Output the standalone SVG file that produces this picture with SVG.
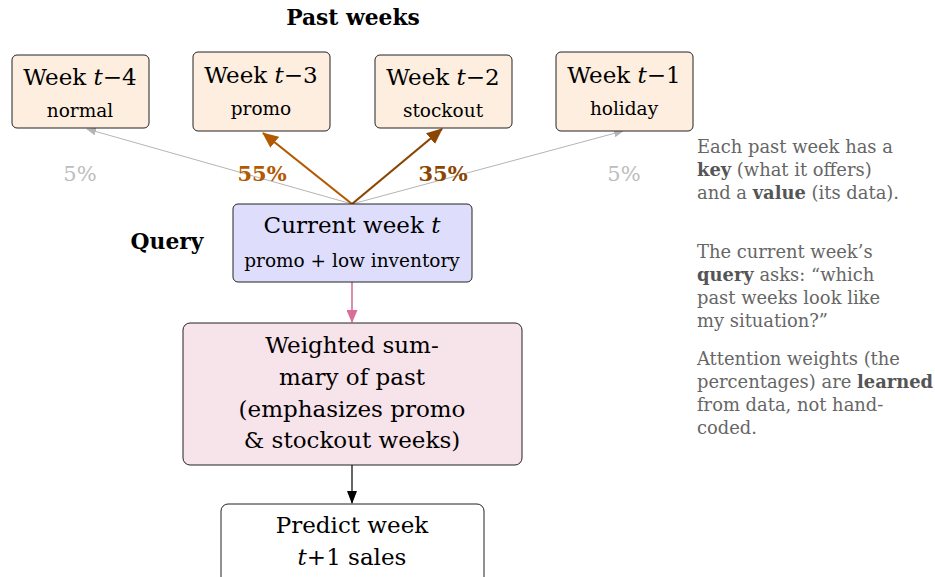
<svg xmlns="http://www.w3.org/2000/svg" width="935" height="577" viewBox="0 0 935 577">
  <style>
    text { font-family: "DejaVu Serif", "Liberation Serif", serif; }
    .big { font-size: 23px; fill: #000; text-anchor: middle; }
    .small { font-size: 18.5px; fill: #000; text-anchor: middle; }
    .it { font-style: italic; }
    .head { font-size: 21.8px; font-weight: bold; fill: #000; text-anchor: middle; }
    .note { font-size: 17.9px; fill: #666; }
    .note .b { font-weight: bold; fill: #555; }
    .past { fill: #fdeedf; stroke: #222; stroke-width: 1; }
    .pct { font-size: 21px; text-anchor: middle; }
  </style>
  <defs>
    <marker id="ahGray" markerWidth="10" markerHeight="8" refX="9" refY="4" orient="auto" markerUnits="userSpaceOnUse">
      <path d="M0,0 L10,4 L0,8 z" fill="#b5b5b5"/>
    </marker>
    <marker id="ahOrange" markerWidth="16" markerHeight="14" refX="15" refY="7" orient="auto" markerUnits="userSpaceOnUse">
      <path d="M0,0 L16,7 L0,14 z" fill="#b35900"/>
    </marker>
    <marker id="ahBrown" markerWidth="16" markerHeight="14" refX="15" refY="7" orient="auto" markerUnits="userSpaceOnUse">
      <path d="M0,0 L16,7 L0,14 z" fill="#8a4500"/>
    </marker>
    <marker id="ahPink" markerWidth="13" markerHeight="11" refX="12" refY="5.5" orient="auto" markerUnits="userSpaceOnUse">
      <path d="M0,0 L13,5.5 L0,11 z" fill="#d86f98"/>
    </marker>
    <marker id="ahBlack" markerWidth="13" markerHeight="10" refX="12" refY="5" orient="auto" markerUnits="userSpaceOnUse">
      <path d="M0,0 L13,5 L0,10 z" fill="#000"/>
    </marker>
  </defs>

  <text class="head" x="353" y="25">Past weeks</text>
  <text class="head" x="167" y="249">Query</text>

  <!-- connectors -->
  <g id="connectors">
    <line x1="352" y1="204" x2="87" y2="129" stroke="#b5b5b5" stroke-width="1" marker-end="url(#ahGray)"/>
    <line x1="352" y1="204" x2="623" y2="131" stroke="#b5b5b5" stroke-width="1" marker-end="url(#ahGray)"/>
    <line x1="352" y1="204" x2="263" y2="133" stroke="#b35900" stroke-width="2.2" marker-end="url(#ahOrange)"/>
    <line x1="352" y1="204" x2="442" y2="129" stroke="#8a4500" stroke-width="2.2" marker-end="url(#ahBrown)"/>
    <line x1="352" y1="282" x2="352" y2="322" stroke="#d86f98" stroke-width="1.6" marker-end="url(#ahPink)"/>
    <line x1="352" y1="465" x2="352" y2="503" stroke="#000" stroke-width="1.2" marker-end="url(#ahBlack)"/>
    <text class="pct" x="80" y="181" fill="#bdbdbd">5%</text>
    <text class="pct" x="262" y="181" fill="#b35900" font-weight="bold">55%</text>
    <text class="pct" x="443" y="181" fill="#8a4500" font-weight="bold">35%</text>
    <text class="pct" x="624" y="181" fill="#bdbdbd">5%</text>
  </g>

  <g id="week-t4">
    <rect class="past" x="12" y="55" width="137" height="73" rx="5"/>
    <text class="big" x="80" y="85">Week <tspan class="it">t</tspan>−4</text>
    <text class="small" x="80" y="117">normal</text>
  </g>
  <g id="week-t3">
    <rect class="past" x="193" y="52" width="137" height="79" rx="5"/>
    <text class="big" x="261" y="83">Week <tspan class="it">t</tspan>−3</text>
    <text class="small" x="261" y="115">promo</text>
  </g>
  <g id="week-t2">
    <rect class="past" x="375" y="55" width="137" height="73" rx="5"/>
    <text class="big" x="443" y="85">Week <tspan class="it">t</tspan>−2</text>
    <text class="small" x="443" y="117">stockout</text>
  </g>
  <g id="week-t1">
    <rect class="past" x="556" y="52" width="137" height="79" rx="5"/>
    <text class="big" x="624" y="83">Week <tspan class="it">t</tspan>−1</text>
    <text class="small" x="624" y="115">holiday</text>
  </g>

  <g id="current-week">
    <rect x="233" y="204" width="239" height="78" rx="5" fill="#dedefc" stroke="#222" stroke-width="1"/>
    <text class="big" x="352" y="233">Current week <tspan class="it">t</tspan></text>
    <text class="small" x="352" y="267">promo + low inventory</text>
  </g>

  <g id="weighted-summary">
    <rect x="183" y="323" width="339" height="142" rx="7" fill="#f7e3ea" stroke="#222" stroke-width="1"/>
    <text class="big" x="352" y="353">Weighted sum-</text>
    <text class="big" x="352" y="385">mary of past</text>
    <text class="big" x="352" y="417">(emphasizes promo</text>
    <text class="big" x="352" y="448">&amp; stockout weeks)</text>
  </g>

  <g id="predict">
    <rect x="221" y="504" width="263" height="80" rx="7" fill="#fff" stroke="#222" stroke-width="1"/>
    <text class="big" x="352" y="533">Predict week</text>
    <text class="big" x="352" y="565"><tspan class="it">t</tspan>+1 sales</text>
  </g>

  <g id="notes">
    <text class="note" x="697" y="153">Each past week has a</text>
    <text class="note" x="697" y="176"><tspan class="b">key</tspan> (what it offers)</text>
    <text class="note" x="697" y="199">and a <tspan class="b">value</tspan> (its data).</text>
    <text class="note" x="697" y="258">The current week’s</text>
    <text class="note" x="697" y="281"><tspan class="b">query</tspan> asks: “which</text>
    <text class="note" x="697" y="304">past weeks look like</text>
    <text class="note" x="697" y="327">my situation?”</text>
    <text class="note" x="697" y="365">Attention weights (the</text>
    <text class="note" x="697" y="388">percentages) are <tspan class="b">learned</tspan></text>
    <text class="note" x="697" y="411">from data, not hand-</text>
    <text class="note" x="697" y="434">coded.</text>
  </g>
</svg>
